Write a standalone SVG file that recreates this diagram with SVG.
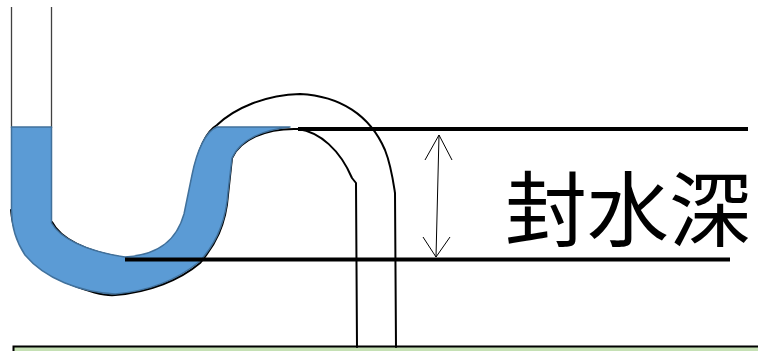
<svg xmlns="http://www.w3.org/2000/svg" width="758" height="351" viewBox="0 0 758 351">
  <style>
    .pipe { fill: none; stroke: #000; stroke-width: 2; stroke-linejoin: round; stroke-linecap: round; }
    .inlet { fill: none; stroke: #404040; stroke-width: 1.3; }
    .level { fill: none; stroke: #000; stroke-width: 4; }
    .dim { fill: none; stroke: #000; stroke-width: 1; }
    .water { fill: #5b9bd5; stroke: #41719c; stroke-width: 1.5; stroke-linejoin: round; }
    .label { font-family: "Noto Sans CJK JP", "Noto Sans CJK SC", sans-serif; font-size: 82px; fill: #000; }
  </style>

  <!-- floor -->
  <g id="floor">
    <rect x="13" y="347" width="745" height="5" fill="#c5e0b4"/>
    <path d="M13.5 351 V346.5 H758" fill="none" stroke="#000" stroke-width="2"/>
  </g>

  <!-- trap body -->
  <g id="trap">
    <line class="inlet" x1="11.5" y1="7" x2="11.5" y2="128"/>
    <line class="inlet" x1="51.5" y1="7" x2="51.5" y2="128"/>
    <!-- inner U wall, crown outer wall, outlet outer wall -->
    <path class="pipe" d="M52 222 C60 238 85 252 125 258 C160 256 178 240 185 215 L193 175 C198 150 205 132 217 125 C235 108 265 95 300 94 C340 96 370 115 385 150 C391 165 393 180 395 193 L396 347"/>
    <!-- outer U wall, crown inner wall, outlet inner wall -->
    <path class="pipe" d="M11 210 C14 245 35 270 70 284 C90 292 105 296 115 295 C150 292 180 280 200 263 C215 245 226 225 228 195 L232 158 C240 140 265 128 298 129 C320 132 340 150 352 178 L356 183 L357 347"/>
  </g>

  <!-- water seal -->
  <g id="water">
    <path class="water" d="M11.5 127 L51.5 127 L51.5 223 C60 238 85 251 125 257 C160 255 177 239 184 214 L192 175 C197 150 206 131 217 127 L290 127 C262 130 240 140 232 158 L228 192 C226 222 215 245 199 262 C178 279 150 291 115 294 C80 292 45 279 25 255 C15 240 11.5 225 11.5 210 Z"/>
  </g>

  <!-- water levels -->
  <g id="levels">
    <line class="level" x1="298" y1="129" x2="748" y2="129"/>
    <line class="level" x1="125" y1="259.5" x2="730" y2="259.5"/>
  </g>

  <!-- seal depth dimension -->
  <g id="dimension">
    <line class="dim" x1="439" y1="135" x2="436" y2="257"/>
    <polyline class="dim" points="425,160 439,135 452,160"/>
    <polyline class="dim" points="423,237 436,257 450,237"/>
  </g>

  <g id="label">
    <text class="label" x="505" y="240">封水深</text>
  </g>
</svg>
